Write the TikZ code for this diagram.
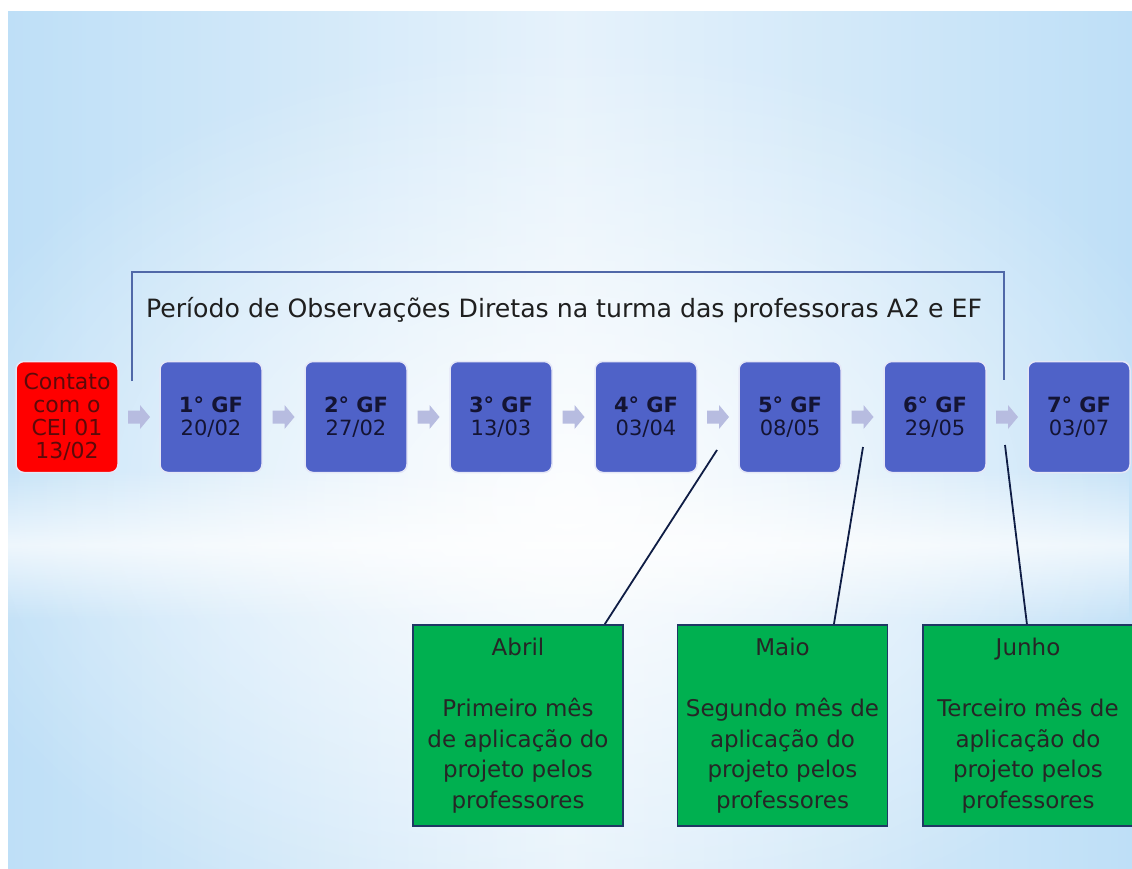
\documentclass[tikz,border=0pt]{standalone}
\usepackage{fontspec}
\setmainfont{DejaVu Sans}
\usetikzlibrary{calc,fadings}
\definecolor{bgblue}{HTML}{BEDFF7}
\definecolor{bgmid}{HTML}{E6F2FB}
\definecolor{boxblue}{HTML}{4F62C8}
\definecolor{boxred}{HTML}{FF0000}
\definecolor{boxgreen}{HTML}{00B050}
\definecolor{greenedge}{HTML}{1F3864}
\definecolor{navytext}{HTML}{141433}
\definecolor{redtext}{HTML}{5C0A0A}
\definecolor{arrowlav}{HTML}{B7BCE0}
\definecolor{brackc}{HTML}{5068A8}
\definecolor{linkc}{HTML}{0F1D45}
\tikzfading[name=softc, inner color=transparent!10, outer color=transparent!100]
\tikzfading[name=bandf, top color=transparent!100, bottom color=transparent!100, middle color=transparent!30]
\tikzset{
  gfbox/.style={draw=white!85!boxblue, line width=1.5pt, fill=boxblue, rounded corners=8pt,
    minimum width=102pt, minimum height=111pt, inner sep=0pt, align=center,
    text=navytext, font=\fontsize{21}{23}\selectfont},
  redbox/.style={gfbox, fill=boxred, text=redtext, font=\fontsize{22}{23}\selectfont},
  monthbox/.style={draw=greenedge, line width=1.6pt, fill=boxgreen, minimum width=210pt,
    minimum height=201pt, inner sep=0pt, align=center, text=black!85,
    font=\fontsize{23}{30.6}\selectfont},
  link/.style={draw=linkc, line width=1.8pt},
  bracket/.style={draw=brackc, line width=1.4pt}
}
\begin{document}
\begin{tikzpicture}[x=1pt,y=-1pt]
\useasboundingbox (0,0) rectangle (1132,869);
\fill[white] (0,0) rectangle (1132,869);
% background
\shade[left color=bgblue, right color=bgblue, middle color=bgmid] (8,12) rectangle (1132,869);
\fill[white, path fading=softc] (566,500) ellipse [x radius=660, y radius=460];
\fill[white, path fading=bandf] (8,470) rectangle (1132,620);

% bracket and title
\coordinate (bl) at (132,381);
\coordinate (br) at (1004,380);
\coordinate (btop) at (566,272);
\draw[bracket] (bl) |- (btop) -| (br);
\node[text=black!88, font=\fontsize{25.2}{28}\selectfont] (title) at (564,310)
  {Período de Observações Diretas na turma das professoras A2 e EF};

% timeline boxes
\node[redbox] (r0) at (67,417) {Contato\\com o\\CEI 01\\13/02};
\node[gfbox] (b1) at (211,417) {\textbf{1° GF}\\20/02};
\node[gfbox] (b2) at (356,417) {\textbf{2° GF}\\27/02};
\node[gfbox] (b3) at (501,417) {\textbf{3° GF}\\13/03};
\node[gfbox] (b4) at (646,417) {\textbf{4° GF}\\03/04};
\node[gfbox] (b5) at (790,417) {\textbf{5° GF}\\08/05};
\node[gfbox] (b6) at (935,417) {\textbf{6° GF}\\29/05};
\node[gfbox] (b7) at (1079,417) {\textbf{7° GF}\\03/07};

% small block arrows between the boxes
\coordinate (a1) at ($(r0.east)!0.5!(b1.west)$);
\coordinate (a2) at ($(b1.east)!0.5!(b2.west)$);
\coordinate (a3) at ($(b2.east)!0.5!(b3.west)$);
\coordinate (a4) at ($(b3.east)!0.5!(b4.west)$);
\coordinate (a5) at ($(b4.east)!0.5!(b5.west)$);
\coordinate (a6) at ($(b5.east)!0.5!(b6.west)$);
\coordinate (a7) at ($(b6.east)!0.5!(b7.west)$);
\foreach \a in {a1,a2,a3,a4,a5,a6,a7}{
  \fill[arrowlav] ($(\a)+(-11,-6.5)$) -- ++(12,0) -- ++(0,-5.5) -- ++(10,12)
    -- ++(-10,12) -- ++(0,-5.5) -- ++(-12,0) -- cycle;
}

% month boxes
\node[monthbox] (g1) at (518,725.5) {Abril\\~\\Primeiro mês\\de aplicação do\\projeto pelos\\professores};
\node[monthbox] (g2) at (782.5,725.5) {Maio\\~\\Segundo mês de\\aplicação do\\projeto pelos\\professores};
\node[monthbox] (g3) at (1028,725.5) {Junho\\~\\Terceiro mês de\\aplicação do\\projeto pelos\\professores};

% connectors
\coordinate (t1) at (717,450);
\coordinate (t2) at (863,447);
\coordinate (t3) at (1005,445);
\draw[link] ($(g1.north west)!0.91!(g1.north east)$) -- (t1);
\draw[link] ($(g2.north west)!0.743!(g2.north east)$) -- (t2);
\draw[link] ($(g3.north west)!0.495!(g3.north east)$) -- (t3);
\end{tikzpicture}
\end{document}
